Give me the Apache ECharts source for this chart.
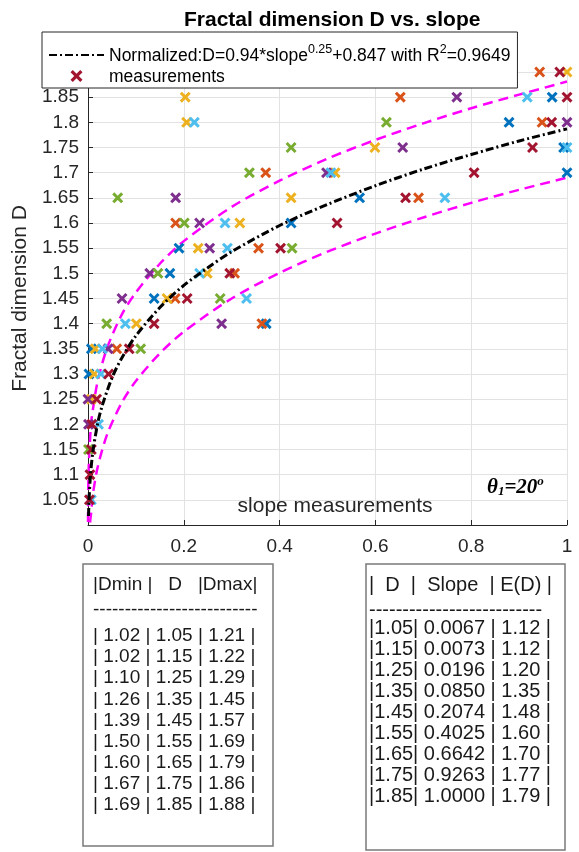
<!DOCTYPE html>
<html><head><meta charset="utf-8">
<script src="https://cdn.jsdelivr.net/npm/echarts@6/dist/echarts.min.js"></script>
<style>html,body{margin:0;padding:0;background:#fff}#c{width:579px;height:852px}</style>
</head><body><div id="c"></div>
<script>
// ---------------- data ----------------
const FIT_NAME = 'Normalized:D=0.94*slope^0.25+0.847 with R^2=0.9649';
const xMin = 0, xMax = 1, xStep = 0.2;
const yMin = 1.0, yMax = 1.9, yStep = 0.05;

// fitted curve (black dash-dot)
const fitSlope = [0.0011, 0.002, 0.005, 0.01, 0.02, 0.03, 0.05, 0.07, 0.1, 0.15, 0.2, 0.25, 0.3, 0.4, 0.5, 0.6, 0.7, 0.8, 0.9, 1.0];
const fitD     = [1.018, 1.046, 1.097, 1.144, 1.201, 1.238, 1.292, 1.331, 1.376, 1.432, 1.476, 1.511, 1.543, 1.595, 1.637, 1.674, 1.707, 1.736, 1.763, 1.787];
// upper bound (magenta dashed)
const upSlope = [0.00005, 0.0001, 0.0005, 0.001, 0.002, 0.004, 0.0067, 0.01, 0.02, 0.04, 0.07, 0.1, 0.15, 0.2, 0.3, 0.4, 0.5, 0.6, 0.7, 0.8, 0.9, 1.0];
const upD     = [1.006, 1.021, 1.069, 1.096, 1.128, 1.166, 1.205, 1.228, 1.285, 1.352, 1.417, 1.462, 1.519, 1.564, 1.632, 1.684, 1.728, 1.765, 1.798, 1.828, 1.855, 1.881];
// lower bound (magenta dashed)
const loSlope = [0.0045, 0.005, 0.0067, 0.01, 0.02, 0.04, 0.07, 0.1, 0.15, 0.2, 0.3, 0.4, 0.5, 0.6, 0.7, 0.8, 0.9, 1.0];
const loD     = [1.005, 1.012, 1.025, 1.059, 1.114, 1.180, 1.242, 1.286, 1.341, 1.384, 1.450, 1.501, 1.543, 1.579, 1.611, 1.640, 1.666, 1.690];

// measurements, one array pair per colour group
const blueSlope = [0.969, 0.879, 0.993, 1.0, 0.567, 0.424, 0.190, 0.171, 0.138, 0.372, 0.007, 0.002];
const blueD     = [1.85, 1.8, 1.75, 1.7, 1.65, 1.6, 1.55, 1.5, 1.45, 1.4, 1.35, 1.3];
const orangeSlope = [0.943, 0.652, 0.948, 0.371, 0.690, 0.183, 0.356, 0.306, 0.182, 0.363, 0.060];
const orangeD     = [1.9, 1.85, 1.8, 1.7, 1.65, 1.6, 1.55, 1.5, 1.45, 1.4, 1.35];
const yellowSlope = [1.0, 0.203, 0.206, 0.599, 0.516, 0.424, 0.317, 0.230, 0.249, 0.165, 0.101, 0.015, 0.013, 0.007];
const yellowD     = [1.9, 1.85, 1.8, 1.75, 1.7, 1.65, 1.6, 1.55, 1.5, 1.45, 1.4, 1.35, 1.3, 1.25];
const purpleSlope = [0.770, 1.0, 0.657, 0.498, 0.183, 0.233, 0.254, 0.129, 0.071, 0.279, 0.042, 0.0, 0.001];
const purpleD     = [1.85, 1.8, 1.75, 1.7, 1.65, 1.6, 1.55, 1.5, 1.45, 1.4, 1.35, 1.25, 1.2];
const greenSlope = [0.623, 0.424, 0.337, 0.062, 0.201, 0.426, 0.146, 0.276, 0.039, 0.110, 0.001];
const greenD     = [1.8, 1.75, 1.7, 1.65, 1.6, 1.55, 1.5, 1.45, 1.4, 1.35, 1.15];
const lightSlope = [0.917, 0.222, 1.0, 0.507, 0.745, 0.286, 0.291, 0.233, 0.331, 0.078, 0.030, 0.027, 0.022, 0.007];
const lightD     = [1.85, 1.8, 1.75, 1.7, 1.65, 1.6, 1.55, 1.5, 1.45, 1.4, 1.35, 1.3, 1.2, 1.05];
const redSlope = [0.985, 1.0, 0.968, 0.928, 0.806, 0.663, 0.520, 0.402, 0.296, 0.207, 0.138, 0.086, 0.043, 0.018, 0.008, 0.007, 0.004, 0.003];
const redD     = [1.9, 1.85, 1.8, 1.75, 1.7, 1.65, 1.6, 1.55, 1.5, 1.45, 1.4, 1.35, 1.3, 1.25, 1.2, 1.15, 1.1, 1.05];

// tables
const tblD    = [1.05, 1.15, 1.25, 1.35, 1.45, 1.55, 1.65, 1.75, 1.85];
const tblDmin = [1.02, 1.02, 1.10, 1.26, 1.39, 1.50, 1.60, 1.67, 1.69];
const tblDmax = [1.21, 1.22, 1.29, 1.45, 1.57, 1.69, 1.79, 1.86, 1.88];
const tblSlope = [0.0067, 0.0073, 0.0196, 0.0850, 0.2074, 0.4025, 0.6642, 0.9263, 1.0000];
const tblED   = [1.12, 1.12, 1.20, 1.35, 1.48, 1.60, 1.70, 1.77, 1.79];

// ---------------- chart ----------------
const FONT = '"Liberation Sans", Arial, Helvetica, sans-serif';
const SERIF = '"Liberation Serif", "Times New Roman", serif';
const CROSS = 'path://M0,2.3 L2.3,0 L6,3.7 L9.7,0 L12,2.3 L8.3,6 L12,9.7 L9.7,12 L6,8.3 L2.3,12 L0,9.7 L3.7,6 Z';
const zip = (a, b) => a.map((v, i) => [v, b[i]]);
const groups = [
  ['#0072BD', blueSlope, blueD], ['#D95319', orangeSlope, orangeD], ['#EDB120', yellowSlope, yellowD],
  ['#7E2F8E', purpleSlope, purpleD], ['#77AC30', greenSlope, greenD], ['#4DBEEE', lightSlope, lightD],
  ['#A2142F', redSlope, redD]
];
const scatterData = [];
groups.forEach(([c, s, d]) => s.forEach((v, i) => scatterData.push({value: [v, d[i]], itemStyle: {color: c, opacity: 1}})));

const leftHeader = '|Dmin |   D   |Dmax|';
const dashes = '-'.repeat(26);
const leftRows = tblD.map((d, i) => '| ' + tblDmin[i].toFixed(2) + ' | ' + d.toFixed(2) + ' | ' + tblDmax[i].toFixed(2) + ' |');
const rightHeader = '|  D  |  Slope  | E(D) |';
const rightRows = tblD.map((d, i) => '|' + d.toFixed(2) + '| ' + tblSlope[i].toFixed(4) + ' | ' + tblED[i].toFixed(2) + ' |');

const tableColor = '#1a1a1a';
function tableGraphic(x, y, w, h, header, rows, textX, rowTop, fontPx) {
  const tableFont = fontPx + 'px ' + FONT;
  const els = [
    {type: 'rect', shape: {x: x, y: y, width: w, height: h}, style: {fill: '#fff', stroke: '#7a7a7a', lineWidth: 1.5}},
    {type: 'text', x: textX, y: 585, style: {text: header, font: tableFont, fill: tableColor, verticalAlign: 'middle'}},
    {type: 'text', x: textX, y: 610, style: {text: dashes, font: tableFont, fill: tableColor, verticalAlign: 'middle'}}
  ];
  rows.forEach((r, i) => els.push({type: 'text', x: textX, y: rowTop + i * 21.1,
    style: {text: r, font: tableFont, fill: tableColor, verticalAlign: 'middle'}}));
  return els;
}

const chart = echarts.init(document.getElementById('c'), null, {renderer: 'canvas'});
chart.setOption({
  animation: false,
  backgroundColor: '#fff',
  title: {
    text: 'Fractal dimension D vs. slope', left: 179, top: 5,
    textStyle: {fontFamily: FONT, fontWeight: 'bold', fontSize: 21, color: '#000'}
  },
  legend: {
    orient: 'vertical', left: 42, top: 32, padding: [11, 7, 2, 6], itemGap: 3,
    itemWidth: 55, itemHeight: 12, backgroundColor: '#fff', borderColor: '#262626', borderWidth: 1,
    data: [
      {name: FIT_NAME, itemStyle: {opacity: 0, color: 'rgba(0,0,0,0)', borderColor: 'rgba(0,0,0,0)'}},
      {name: 'measurements', icon: CROSS, itemStyle: {color: '#A2142F', opacity: 1}}
    ],
    formatter: n => n === FIT_NAME
      ? '{n|Normalized:D=0.94*slope}{s|0.25}{n|+0.847 with R}{s|2}{n|=0.9649}'
      : '{n|measurements}',
    textStyle: {
      fontFamily: FONT, fontSize: 17.5, color: '#000',
      rich: {
        n: {fontFamily: FONT, fontSize: 17.5, color: '#000', lineHeight: 20, verticalAlign: 'bottom'},
        s: {fontFamily: FONT, fontSize: 12.5, color: '#000', lineHeight: 11, padding: [0, 0, 9, 0], verticalAlign: 'bottom'}
      }
    }
  },
  grid: {left: 88, right: 12, top: 72, bottom: 327, containLabel: false},
  xAxis: {
    type: 'value', min: xMin, max: xMax, interval: xStep,
    name: 'slope measurements', nameLocation: 'middle', nameGap: -29,
    nameTextStyle: {fontFamily: FONT, fontSize: 21, color: '#262626', padding: [0, 0, 0, 15]},
    axisLine: {show: true, lineStyle: {color: '#262626', width: 1}},
    axisTick: {show: true, inside: true, length: 5, lineStyle: {color: '#262626'}},
    axisLabel: {fontFamily: FONT, fontSize: 19, color: '#262626', margin: 12},
    splitLine: {show: true, lineStyle: {color: '#e2e2e2', width: 1}}
  },
  yAxis: {
    type: 'value', min: yMin, max: yMax, interval: yStep,
    name: 'Fractal dimension D', nameLocation: 'middle', nameGap: 54, nameRotate: 90,
    nameTextStyle: {fontFamily: FONT, fontSize: 21, color: '#262626'},
    axisLine: {show: true, lineStyle: {color: '#262626', width: 1}},
    axisTick: {show: true, inside: true, length: 5, lineStyle: {color: '#262626'}},
    axisLabel: {
      fontFamily: FONT, fontSize: 19, color: '#262626', margin: 9,
      formatter: v => (v < 1.01 || v > 1.89) ? '' : String(+v.toFixed(2))
    },
    splitLine: {show: true, lineStyle: {color: '#e2e2e2', width: 1}}
  },
  series: [
    {
      name: 'upper', type: 'line', data: zip(upSlope, upD), symbol: 'none', smooth: 0.3, clip: true,
      lineStyle: {color: '#FF00FF', width: 2.5, type: [10, 6]}, z: 3
    },
    {
      name: 'lower', type: 'line', data: zip(loSlope, loD), symbol: 'none', smooth: 0.3, clip: true,
      lineStyle: {color: '#FF00FF', width: 2.5, type: [10, 6]}, z: 3
    },
    {
      name: 'measurements', type: 'scatter', symbol: CROSS, symbolSize: 11,
      itemStyle: {color: '#A2142F', opacity: 1}, data: scatterData, z: 4
    },
    {
      name: FIT_NAME, type: 'line', data: zip(fitSlope, fitD), symbol: 'none', smooth: 0.3, clip: true,
      lineStyle: {color: '#000', width: 3, type: [8, 3, 2, 3]}, itemStyle: {color: '#000'}, z: 5
    }
  ],
  graphic: [
    {
      type: 'text', left: 487, top: 475, z: 10,
      style: {
        text: '{a|θ}{b|1}{a|=20}{c|o}',
        rich: {
          a: {fontFamily: SERIF, fontStyle: 'italic', fontWeight: 'bold', fontSize: 21, lineHeight: 22, verticalAlign: 'bottom', color: '#000'},
          b: {fontFamily: SERIF, fontStyle: 'italic', fontWeight: 'bold', fontSize: 13, lineHeight: 10, padding: [6, 0, 0, 0], verticalAlign: 'bottom', color: '#000'},
          c: {fontFamily: SERIF, fontStyle: 'italic', fontWeight: 'bold', fontSize: 13, lineHeight: 10, padding: [0, 0, 10, 0], verticalAlign: 'bottom', color: '#000'}
        }
      }
    },
    {type: 'group', children: tableGraphic(83, 564, 190, 282, leftHeader, leftRows, 93, 636, 19)},
    {type: 'group', children: tableGraphic(366, 564, 199, 286, rightHeader, rightRows, 369, 628, 20)}
  ]
});
</script>
</body></html>
